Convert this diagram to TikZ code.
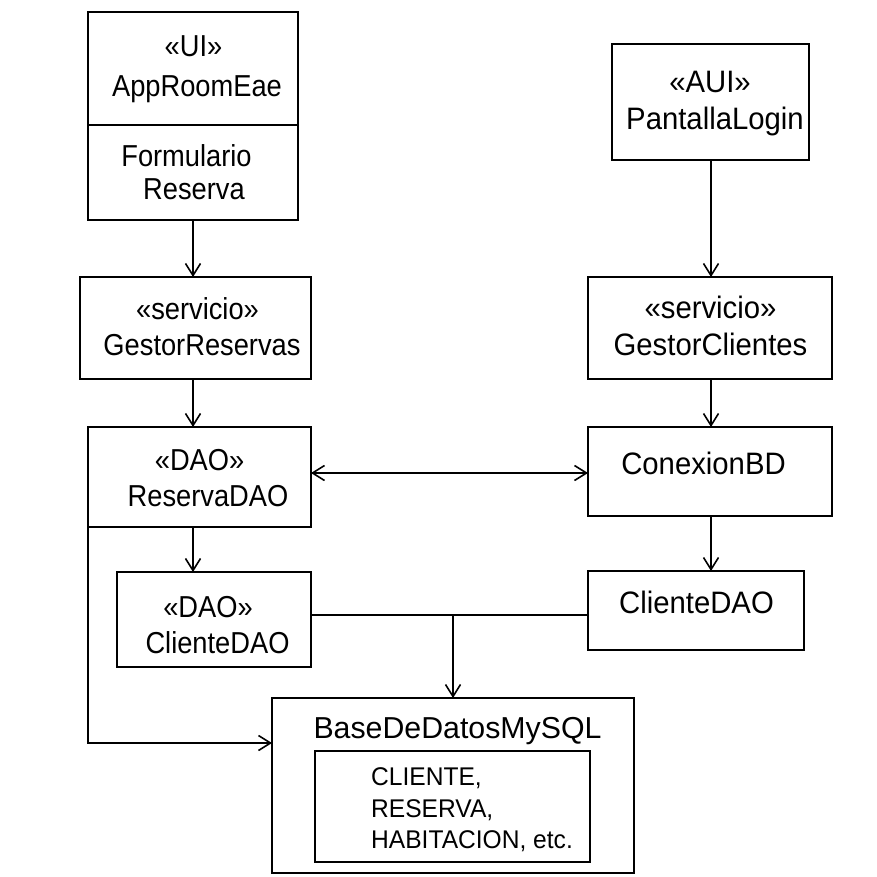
\documentclass[tikz,border=0pt]{standalone}
\usepackage{fontspec}
\setmainfont{Liberation Sans}
\newfontfamily\leftfont[FakeStretch=0.9]{Liberation Sans}
\newfontfamily\rightfont[FakeStretch=0.945]{Liberation Sans}
\newfontfamily\infont[FakeStretch=0.96]{Liberation Sans}
\usetikzlibrary{arrows.meta}
\begin{document}
\begin{tikzpicture}[x=1pt,y=-1pt,
  box/.style={draw, line width=1.8pt, rectangle, inner sep=0pt, outer sep=0pt, anchor=north west},
  conn/.style={line width=1.8pt},
  arr/.style={conn, -{Straight Barb[length=12pt,width=15pt,line width=1.6pt]}},
  biarr/.style={conn, {Straight Barb[length=12pt,width=15pt,line width=1.6pt]}-{Straight Barb[length=12pt,width=15pt,line width=1.6pt]}},
  lblL/.style={inner sep=0pt, anchor=base, font=\leftfont\fontsize{30.3}{36}\selectfont},
  lblR/.style={inner sep=0pt, anchor=base, font=\rightfont\fontsize{31}{37}\selectfont},
  lblDB/.style={inner sep=0pt, anchor=base, font=\fontsize{30.3}{36}\selectfont},
  lblIn/.style={inner sep=0pt, anchor=base west, font=\infont\fontsize{25.6}{30}\selectfont}
]
\useasboundingbox[fill=white] (0,0) rectangle (877,877);

% boxes
\node[box, minimum width=210pt, minimum height=208pt] (app) at (88,12) {};
\node[box, minimum width=197pt, minimum height=116pt] (pl) at (612,44) {};
\node[box, minimum width=231pt, minimum height=102pt] (gr) at (80,277) {};
\node[box, minimum width=244pt, minimum height=102pt] (gc) at (588,277) {};
\node[box, minimum width=223pt, minimum height=100pt] (rd) at (88,427) {};
\node[box, minimum width=244pt, minimum height=89pt] (cbd) at (588,427) {};
\node[box, minimum width=194pt, minimum height=95pt] (cdl) at (117,572) {};
\node[box, minimum width=216pt, minimum height=79pt] (cdr) at (588,571) {};
\node[box, minimum width=362pt, minimum height=175pt] (db) at (272,698) {};
\node[box, minimum width=275pt, minimum height=111pt] (dbin) at (315,751) {};

% compartment divider
\coordinate (dv) at (0,125);
\draw[conn] (app.west |- dv) -- (app.east |- dv);

% texts
\node[lblL] (tui) at (193.5,57) {«UI»};
\node[lblL] (tapp) at (197,97) {AppRoomEae};
\node[lblL] (tform) at (186.5,167) {Formulario};
\node[lblL] (tres) at (194,200) {Reserva};
\node[lblR] (taui) at (710,93) {«AUI»};
\node[lblR] (tpl) at (715,130) {PantallaLogin};
\node[lblL] (tsv1) at (197.5,319) {«servicio»};
\node[lblL] (tgr) at (202,355) {GestorReservas};
\node[lblR] (tsv2) at (710.5,318) {«servicio»};
\node[lblR] (tgc) at (710.5,355) {GestorClientes};
\node[lblL] (tdao1) at (199.6,470) {«DAO»};
\node[lblL] (trd) at (208,506) {ReservaDAO};
\node[lblR] (tcbd) at (703.5,474) {ConexionBD};
\node[lblL] (tdao2) at (208,617) {«DAO»};
\node[lblL] (tcdl) at (217.5,653) {ClienteDAO};
\node[lblR] (tcdr) at (696.5,613) {ClienteDAO};
\node[lblDB] (tdb) at (457.5,738) {BaseDeDatosMySQL};
\node[lblIn] (tl1) at (371,785) {CLIENTE,};
\node[lblIn] (tl2) at (371,817) {RESERVA,};
\node[lblIn] (tl3) at (371,848) {HABITACION, etc.};

% connectors left column
\draw[arr] (app.south) -- (app.south |- gr.north);
\draw[arr] (app.south |- gr.south) -- (app.south |- rd.north);
\draw[arr] (app.south |- rd.south) -- (app.south |- cdl.north);

% connectors right column
\coordinate (rc) at (711,0);
\draw[arr] (rc |- pl.south) -- (rc |- gc.north);
\draw[arr] (rc |- gc.south) -- (rc |- cbd.north);
\draw[arr] (rc |- cbd.south) -- (rc |- cdr.north);

% bidirectional
\coordinate (h) at (0,473);
\draw[biarr] (rd.east |- h) -- (cbd.west |- h);

% join to database
\coordinate (j) at (453,615);
\draw[conn] (cdl.east |- j) -- (cdr.west |- j);
\draw[arr] (j) -- (j |- db.north);

% left line to database
\coordinate (k) at (0,743);
\draw[arr] (rd.south west) -- (rd.south west |- k) -- (db.west |- k);
\end{tikzpicture}
\end{document}
